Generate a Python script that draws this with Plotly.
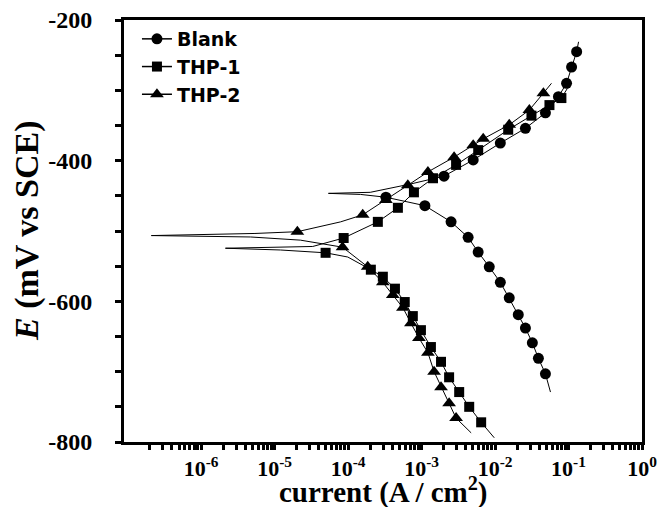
import plotly.graph_objects as go

# ---------------- data (current in A/cm2, potential in mV vs SCE) ----------------
blank_current = [0.0568, 0.0485, 0.0389, 0.0322, 0.0259, 0.0207, 0.0156, 0.0118, 0.00834,
                 0.00589, 0.00430, 0.00252, 0.00111, 3.27e-4, 1.48e-4, 5.4e-5, 2.0e-4,
                 7.2e-4, 2.02e-3, 5.04e-3, 0.0118, 0.0259, 0.0485, 0.0729, 0.0940,
                 0.110, 0.129, 0.137]
blank_potential = [-729, -703, -681, -659, -638, -619, -595, -573, -551, -530, -509, -487,
                   -464, -452, -448, -446.5, -445, -433, -422, -399, -375, -354, -332,
                   -309, -290, -267, -245, -231]
blank_marked = [0, 1, 1, 1, 1, 1, 1, 1, 1, 1, 1, 1, 1, 1, 0, 0, 0, 0, 1, 1, 1, 1, 1, 1, 1,
                1, 1, 0]

thp1_current = [9.75e-3, 6.47e-3, 4.45e-3, 3.25e-3, 2.37e-3, 1.84e-3, 1.34e-3, 9.8e-4,
                7.6e-4, 5.9e-4, 4.34e-4, 2.97e-4, 2.04e-4, 9.9e-5, 4.94e-5, 1.2e-5,
                2.14e-6, 1.2e-5, 3.3e-5, 8.7e-5, 2.54e-4, 4.76e-4, 7.87e-4, 1.43e-3,
                2.95e-3, 5.9e-3, 0.0151, 0.0313, 0.055, 0.080, 0.0968]
thp1_potential = [-794, -772, -750, -729, -708, -686, -665, -641, -621, -601, -582, -565,
                  -555, -537, -531, -527, -524.5, -523, -522, -510, -487, -467, -445, -425,
                  -406, -385, -356, -336, -321, -311, -297]
thp1_marked = [0, 1, 1, 1, 1, 1, 1, 1, 1, 1, 1, 1, 1, 0, 1, 0, 0, 0, 0, 1, 1, 1, 1, 1, 1,
               1, 1, 1, 1, 1, 0]

thp2_current = [4.73e-3, 2.95e-3, 2.37e-3, 1.84e-3, 1.48e-3, 1.22e-3, 9.2e-4, 7.16e-4,
                5.57e-4, 4.06e-4, 2.97e-4, 1.85e-4, 8.4e-5, 2.24e-5, 4.7e-6, 2.1e-7,
                5.4e-6, 2.04e-5, 7.9e-5, 1.58e-4, 3.27e-4, 6.5e-4, 1.22e-3, 2.77e-3,
                5.04e-3, 6.9e-3, 0.0156, 0.0293, 0.0455, 0.0586]
thp2_potential = [-787, -766, -745, -722, -700, -673, -652, -631, -609, -591, -573, -551,
                  -523, -513, -508.5, -506.5, -503.5, -501, -487, -477, -456, -435, -416,
                  -395, -378, -369, -349, -328, -304, -290]
thp2_marked = [0, 1, 1, 1, 1, 1, 1, 1, 1, 1, 1, 1, 1, 0, 0, 0, 0, 1, 0, 1, 1, 1, 1, 1, 1,
               1, 1, 1, 1, 0]

series_names = ["Blank", "THP-1", "THP-2"]
x_tick_values = [1e-6, 1e-5, 1e-4, 1e-3, 1e-2, 1e-1, 1e0]
x_tick_labels = ["10<sup>-6</sup>", "10<sup>-5</sup>", "10<sup>-4</sup>", "10<sup>-3</sup>",
                 "10<sup>-2</sup>", "10<sup>-1</sup>", "10<sup>0</sup>"]
y_tick_values = [-800, -600, -400, -200]
y_tick_labels = ["-800", "-600", "-400", "-200"]
x_title = "current (A / cm<sup>2</sup>)"
y_title = "<i>E</i> (mV vs SCE)"

# ---------------- figure ----------------
series = [
    (series_names[0], blank_current, blank_potential, blank_marked, "circle", 11),
    (series_names[1], thp1_current, thp1_potential, thp1_marked, "square", 10),
    (series_names[2], thp2_current, thp2_potential, thp2_marked, "triangle-up", 12),
]

fig = go.Figure()
for name, cur, pot, marked, sym, size in series:
    fig.add_trace(go.Scatter(x=cur, y=pot, mode="lines", line=dict(color="black", width=1),
                             showlegend=False, hoverinfo="skip"))
    mx = [c for c, m in zip(cur, marked) if m]
    my = [p for p, m in zip(pot, marked) if m]
    fig.add_trace(go.Scatter(x=mx, y=my, mode="markers",
                             marker=dict(symbol=sym, size=size, color="black"),
                             showlegend=False))
    # legend entry
    fig.add_trace(go.Scatter(x=[None], y=[None], mode="lines+markers", name=name,
                             line=dict(color="black", width=1.5),
                             marker=dict(symbol=sym, size=size, color="black"),
                             legendgroup=name))

minor_x = [k * 10.0 ** e for e in range(-7, 0) for k in range(2, 10)]

serif_bold = dict(family="Liberation Serif", color="black", weight="bold")

fig.update_layout(
    width=659, height=507, autosize=False,
    margin=dict(l=124, r=17, t=20, b=65, autoexpand=False),
    plot_bgcolor="white", paper_bgcolor="white",
    showlegend=True,
    legend=dict(x=0.025, y=1.0, xanchor="left", yanchor="top",
                bgcolor="rgba(0,0,0,0)", borderwidth=0, tracegroupgap=0,
                font=dict(family="DejaVu Sans", size=19, color="black", weight="bold")),
    xaxis=dict(type="log", range=[-7.05, 0.0], tickmode="array",
               tickvals=x_tick_values, ticktext=x_tick_labels, automargin=False,
               ticks="outside", ticklen=5, tickwidth=2.5, tickcolor="black",
               ticklabelstandoff=0, ticklabeloverflow="allow",
               showline=True, linewidth=3, linecolor="black", mirror=True,
               showgrid=False, zeroline=False,
               tickfont=dict(size=22, **serif_bold),
               minor=dict(tickvals=minor_x, ticks="outside", ticklen=5, tickwidth=2.5,
                          tickcolor="black", showgrid=False)),
    yaxis=dict(range=[-800, -200], tickmode="array",
               tickvals=y_tick_values, ticktext=y_tick_labels, automargin=False,
               ticks="outside", ticklen=6, tickwidth=2.5, tickcolor="black",
               ticklabelstandoff=18, ticklabeloverflow="allow",
               showline=True, linewidth=3, linecolor="black", mirror=True,
               showgrid=False, zeroline=False,
               tickfont=dict(size=24, **serif_bold),
               minor=dict(dtick=50, tick0=-800, ticks="outside", ticklen=6, tickwidth=2.5,
                          tickcolor="black", showgrid=False)),
    annotations=[
        dict(text=x_title, xref="paper", yref="paper", x=0.5, y=0, xanchor="center",
             yanchor="middle", yshift=-48, showarrow=False, font=dict(size=29, **serif_bold)),
        dict(text=y_title, xref="paper", yref="paper", x=0, y=0.5, xanchor="center",
             yanchor="middle", xshift=-97, textangle=-90, showarrow=False,
             font=dict(size=34, **serif_bold)),
    ],
)

fig.write_html("out.html")
